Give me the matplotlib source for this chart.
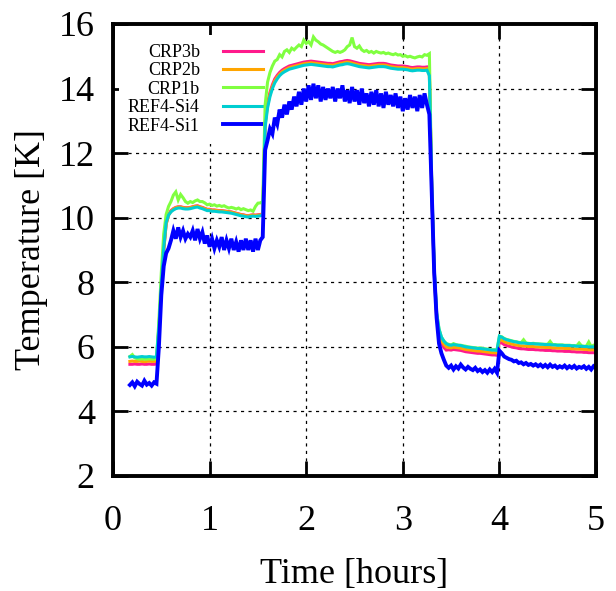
import numpy as np
import matplotlib
matplotlib.use("Agg")
import matplotlib.pyplot as plt

# sampling grid (hours), 194 samples every 0.025 h from 0.175 to 5.0
hours = np.linspace(0.175, 5.0, 194)

crp3b = [
    # 0.175-0.45
    5.46, 5.46, 5.47, 5.46, 5.46, 5.47, 5.46, 5.46, 5.47, 5.46, 5.46, 5.47,
    # 0.475-0.6
    6.5, 7.8, 9.0, 9.8, 10.1, 10.22,
    # 0.625-1.55
    10.28, 10.32, 10.34, 10.34, 10.32, 10.31, 10.31, 10.32, 10.34, 10.36,
    10.37, 10.34, 10.32, 10.29, 10.26, 10.26, 10.24, 10.24, 10.23, 10.22,
    10.22, 10.21, 10.20, 10.19, 10.18, 10.16, 10.14, 10.12, 10.10, 10.09,
    10.07, 10.06, 10.08, 10.09, 10.08, 10.09, 10.10, 10.12,
    # 1.575-3.275
    12.95, 13.55, 13.88, 14.12, 14.3, 14.41, 14.5, 14.57, 14.62, 14.66,
    14.7, 14.72, 14.74, 14.76, 14.78, 14.8, 14.82, 14.83, 14.84, 14.85,
    14.84, 14.83, 14.82, 14.81, 14.8, 14.79, 14.78, 14.78, 14.77, 14.79,
    14.81, 14.83, 14.84, 14.86, 14.87, 14.86, 14.84, 14.82, 14.8, 14.78,
    14.77, 14.76, 14.75, 14.74, 14.75, 14.76, 14.77, 14.78, 14.78, 14.78,
    14.77, 14.75, 14.73, 14.72, 14.71, 14.7, 14.7, 14.7, 14.69, 14.68,
    14.66, 14.65, 14.66, 14.67, 14.67, 14.66, 14.66, 14.67, 14.5,
    # 3.3-3.45
    10.8, 8.3, 6.9, 6.4, 6.12, 5.98, 5.9,
    # 3.475-3.975
    5.91, 5.9, 5.92, 5.91, 5.9, 5.89, 5.87, 5.85, 5.84, 5.83,
    5.82, 5.81, 5.8, 5.8, 5.79, 5.78, 5.77, 5.76, 5.75, 5.75, 5.74,
    # 4.0-5.0
    6.15, 6.12, 6.07, 6.04, 6.02, 6.0, 5.98, 5.97, 5.95, 5.94,
    5.94, 5.93, 5.92, 5.92, 5.92, 5.91, 5.91, 5.9, 5.9, 5.89,
    5.89, 5.89, 5.88, 5.88, 5.87, 5.87, 5.87, 5.86, 5.86, 5.86,
    5.85, 5.85, 5.84, 5.84, 5.84, 5.83, 5.83, 5.82, 5.82, 5.82, 5.81,
]

crp2b = [
    5.55, 5.56, 5.55, 5.55, 5.56, 5.55, 5.54, 5.55, 5.56, 5.55, 5.55, 5.56,
    6.55, 7.85, 9.0, 9.8, 10.08, 10.2,
    10.27, 10.31, 10.33, 10.33, 10.31, 10.3, 10.3, 10.31, 10.33, 10.35,
    10.36, 10.33, 10.31, 10.28, 10.25, 10.25, 10.23, 10.23, 10.22, 10.21,
    10.21, 10.2, 10.19, 10.18, 10.17, 10.15, 10.13, 10.11, 10.09, 10.08,
    10.06, 10.05, 10.07, 10.08, 10.07, 10.08, 10.09, 10.11,
    12.88, 13.48, 13.82, 14.06, 14.24, 14.36, 14.45, 14.52, 14.57, 14.61,
    14.65, 14.67, 14.69, 14.71, 14.73, 14.75, 14.77, 14.78, 14.79, 14.8,
    14.79, 14.78, 14.77, 14.76, 14.75, 14.74, 14.73, 14.73, 14.72, 14.74,
    14.76, 14.78, 14.79, 14.81, 14.82, 14.81, 14.79, 14.77, 14.75, 14.73,
    14.72, 14.71, 14.7, 14.69, 14.7, 14.71, 14.72, 14.73, 14.73, 14.73,
    14.72, 14.7, 14.68, 14.67, 14.66, 14.65, 14.65, 14.65, 14.64, 14.63,
    14.61, 14.6, 14.61, 14.62, 14.62, 14.61, 14.61, 14.62, 14.45,
    10.85, 8.35, 6.98, 6.47, 6.2, 6.08, 6.0,
    5.98, 5.97, 5.99, 5.98, 5.97, 5.96, 5.94, 5.92, 5.91, 5.9,
    5.89, 5.88, 5.87, 5.87, 5.86, 5.85, 5.84, 5.83, 5.82, 5.82, 5.81,
    6.24, 6.21, 6.16, 6.13, 6.11, 6.09, 6.07, 6.06, 6.04, 6.03,
    6.03, 6.02, 6.01, 6.01, 6.01, 6.0, 6.0, 5.99, 5.99, 5.98,
    5.98, 5.98, 5.97, 5.97, 5.96, 5.96, 5.96, 5.95, 5.95, 5.95,
    5.94, 5.94, 5.93, 5.93, 5.93, 5.92, 5.92, 5.91, 5.91, 5.91, 5.9,
]

crp1b = [
    5.7, 5.76, 5.66, 5.63, 5.62, 5.63, 5.62, 5.62, 5.63, 5.62, 5.62, 5.63,
    6.8, 8.3, 9.5, 10.1, 10.35, 10.5,
    10.7, 10.8, 10.55, 10.72, 10.62, 10.5, 10.45, 10.5, 10.47, 10.52,
    10.55, 10.5, 10.5, 10.46, 10.4, 10.42, 10.38, 10.4, 10.36, 10.38,
    10.35, 10.37, 10.33, 10.3, 10.32, 10.3, 10.27, 10.3, 10.25, 10.28,
    10.25, 10.22, 10.24, 10.2, 10.35, 10.45, 10.46, 10.5,
    13.5, 14.2, 14.5, 14.7, 14.85, 14.9, 15.05, 14.98, 15.15, 15.2,
    15.12, 15.25, 15.2, 15.28, 15.35, 15.3, 15.5, 15.4, 15.45, 15.35,
    15.6, 15.5, 15.45, 15.38, 15.35, 15.3, 15.25, 15.2, 15.15, 15.12,
    15.15, 15.12, 15.15, 15.2, 15.3, 15.35, 15.58, 15.3, 15.25, 15.32,
    15.2, 15.15, 15.18, 15.12, 15.15, 15.1, 15.15, 15.12, 15.1, 15.12,
    15.08, 15.1, 15.07, 15.05, 15.08, 15.04, 15.05, 15.0, 15.02, 14.98,
    15.0, 14.97, 14.95, 14.98, 15.0, 14.98, 15.05, 15.03, 15.08,
    11.0, 8.45, 7.05, 6.55, 6.3, 6.18, 6.1,
    6.08, 6.06, 6.1, 6.07, 6.05, 6.05, 6.03, 6.02, 6.0, 5.99,
    5.98, 5.97, 5.96, 5.97, 5.95, 5.94, 5.93, 5.92, 5.91, 5.91, 5.9,
    6.33, 6.31, 6.26, 6.23, 6.21, 6.19, 6.17, 6.16, 6.14, 6.13,
    6.22, 6.12, 6.11, 6.1, 6.11, 6.1, 6.09, 6.09, 6.08, 6.08,
    6.08, 6.17, 6.07, 6.07, 6.06, 6.06, 6.06, 6.05, 6.05, 6.05,
    6.04, 6.04, 6.03, 6.12, 6.03, 6.02, 6.02, 6.15, 6.01, 6.05, 6.0,
]

ref4_si4 = [
    5.69, 5.7, 5.69, 5.68, 5.69, 5.7, 5.69, 5.69, 5.7, 5.69, 5.68, 5.69,
    6.6, 7.9, 9.05, 9.85, 10.08, 10.18,
    10.24, 10.28, 10.30, 10.30, 10.28, 10.27, 10.27, 10.28, 10.30, 10.32,
    10.33, 10.30, 10.28, 10.25, 10.22, 10.22, 10.20, 10.20, 10.19, 10.18,
    10.18, 10.17, 10.16, 10.15, 10.14, 10.12, 10.10, 10.08, 10.06, 10.05,
    10.03, 10.02, 10.04, 10.05, 10.04, 10.05, 10.06, 10.08,
    12.8, 13.4, 13.75, 14.0, 14.18, 14.3, 14.4, 14.47, 14.52, 14.56,
    14.6, 14.62, 14.64, 14.66, 14.68, 14.7, 14.72, 14.73, 14.74, 14.75,
    14.74, 14.73, 14.72, 14.71, 14.7, 14.69, 14.68, 14.68, 14.67, 14.69,
    14.71, 14.73, 14.74, 14.76, 14.77, 14.76, 14.74, 14.72, 14.7, 14.68,
    14.67, 14.66, 14.65, 14.64, 14.65, 14.66, 14.67, 14.68, 14.68, 14.68,
    14.67, 14.65, 14.63, 14.62, 14.61, 14.6, 14.6, 14.6, 14.59, 14.58,
    14.56, 14.55, 14.56, 14.57, 14.57, 14.56, 14.56, 14.57, 14.4,
    10.9, 8.4, 7.05, 6.55, 6.3, 6.18, 6.1,
    6.06, 6.05, 6.07, 6.06, 6.05, 6.04, 6.02, 6.0, 5.99, 5.98,
    5.97, 5.96, 5.95, 5.95, 5.94, 5.93, 5.92, 5.91, 5.9, 5.9, 5.89,
    6.33, 6.3, 6.25, 6.22, 6.2, 6.18, 6.16, 6.15, 6.13, 6.12,
    6.12, 6.11, 6.1, 6.1, 6.1, 6.09, 6.09, 6.08, 6.08, 6.07,
    6.07, 6.07, 6.06, 6.06, 6.05, 6.05, 6.05, 6.04, 6.04, 6.04,
    6.03, 6.03, 6.02, 6.02, 6.02, 6.01, 6.01, 6.0, 6.0, 6.0, 5.99,
]

ref4_si1 = [
    4.82, 4.9, 4.78, 4.92, 4.85, 4.8, 4.95, 4.83, 4.88, 4.8, 4.9, 4.86,
    6.0, 7.6, 8.5, 8.9, 9.05, 9.3,
    9.6, 9.35, 9.7, 9.4, 9.6, 9.35, 9.5, 9.4, 9.6, 9.3,
    9.65, 9.35, 9.55, 9.2, 9.45, 9.1, 9.35, 9.05, 9.3, 9.1,
    9.4, 9.0, 9.3, 9.05, 9.35, 9.0, 9.25, 8.95, 9.3, 9.0,
    9.35, 9.0, 9.3, 8.95, 9.35, 9.0, 9.3, 9.4,
    12.1, 12.4, 12.75, 12.6, 13.1, 12.9, 13.35, 13.1, 13.5, 13.2,
    13.6, 13.35, 13.75, 13.45, 13.9, 13.5, 14.0, 13.6, 14.1, 13.65,
    14.15, 13.7, 14.1, 13.6, 14.05, 13.65, 14.0, 13.7, 14.05, 13.6,
    14.0, 13.7, 14.1, 13.6, 13.95, 13.55, 14.05, 13.6, 13.95, 13.5,
    14.0, 13.55, 13.85, 13.45, 13.9, 13.5, 13.95, 13.45, 13.85, 13.4,
    13.9, 13.5, 13.8, 13.45, 13.85, 13.4, 13.75, 13.3, 13.7, 13.35,
    13.8, 13.4, 13.75, 13.3, 13.8, 13.4, 13.85, 13.5, 13.2,
    10.8, 8.3, 6.9, 6.1, 5.8, 5.6, 5.42,
    5.35, 5.42, 5.3, 5.4, 5.33, 5.45, 5.36, 5.3, 5.38, 5.32,
    5.28, 5.35, 5.25, 5.3, 5.22, 5.28, 5.2, 5.3, 5.22, 5.32, 5.2,
    5.88, 5.8, 5.7, 5.66, 5.62, 5.6, 5.55, 5.57, 5.5, 5.52,
    5.46, 5.5, 5.44, 5.47, 5.42, 5.46, 5.4, 5.45, 5.38, 5.44,
    5.37, 5.45, 5.38, 5.42, 5.35, 5.4, 5.36, 5.42, 5.34, 5.4,
    5.35, 5.41, 5.33, 5.38, 5.35, 5.4, 5.32, 5.38, 5.3, 5.4, 5.35,
]

labels = ["CRP3b", "CRP2b", "CRP1b", "REF4-Si4", "REF4-Si1"]
colors = ["#ff1a8c", "#ffa500", "#80ff40", "#00ced1", "#0000ff"]
widths = [2.2, 2.2, 2.2, 2.2, 2.8]
series = [crp3b, crp2b, crp1b, ref4_si4, ref4_si1]

x_ticks = [0, 1, 2, 3, 4, 5]
y_ticks = [2, 4, 6, 8, 10, 12, 14, 16]

plt.rcParams["font.family"] = ["Liberation Serif", "DejaVu Serif"]

fig = plt.figure(figsize=(6.16, 5.91), dpi=100)
ax = fig.add_axes([113 / 616, 1 - 476 / 591, (596 - 113) / 616, (476 - 24) / 591])

for y, lab, c, lw in zip(series, labels, colors, widths):
    n = min(len(y), len(hours))
    ax.plot(hours[:n], y[:n], color=c, lw=lw, label=lab, solid_joinstyle="miter",
            zorder=2)

ax.set_xlim(0, 5)
ax.set_ylim(2, 16)
ax.set_xticks(x_ticks)
ax.set_yticks(y_ticks)
ax.grid(True, color="black", linestyle=(0, (2.5, 3.5)), linewidth=0.9)
ax.set_axisbelow(True)

for s in ax.spines.values():
    s.set_linewidth(2.8)

ax.tick_params(axis="both", which="major", direction="in", length=11, width=2.0,
               top=True, right=True, labelsize=26)
ax.tick_params(axis="x", pad=21)
ax.tick_params(axis="y", pad=13)

ax.set_xlabel("Time [hours]", fontsize=26, labelpad=14)
ax.set_ylabel("Temperature [K]", fontsize=26, labelpad=8)

leg = ax.legend(loc="upper left", bbox_to_anchor=(0.012, 0.976), fontsize=13,
                markerfirst=False, frameon=True, fancybox=False,
                handlelength=2.2, handletextpad=1.3, labelspacing=0.08,
                borderpad=0.5, borderaxespad=0.0)
leg.get_frame().set_facecolor("white")
leg.get_frame().set_edgecolor("none")
leg.get_frame().set_alpha(1.0)
for t in leg.get_texts():
    t.set_ha("right")
leg._legend_box.align = "right"
leg.set_zorder(1.5)

fig.savefig("out.png", dpi=100)
